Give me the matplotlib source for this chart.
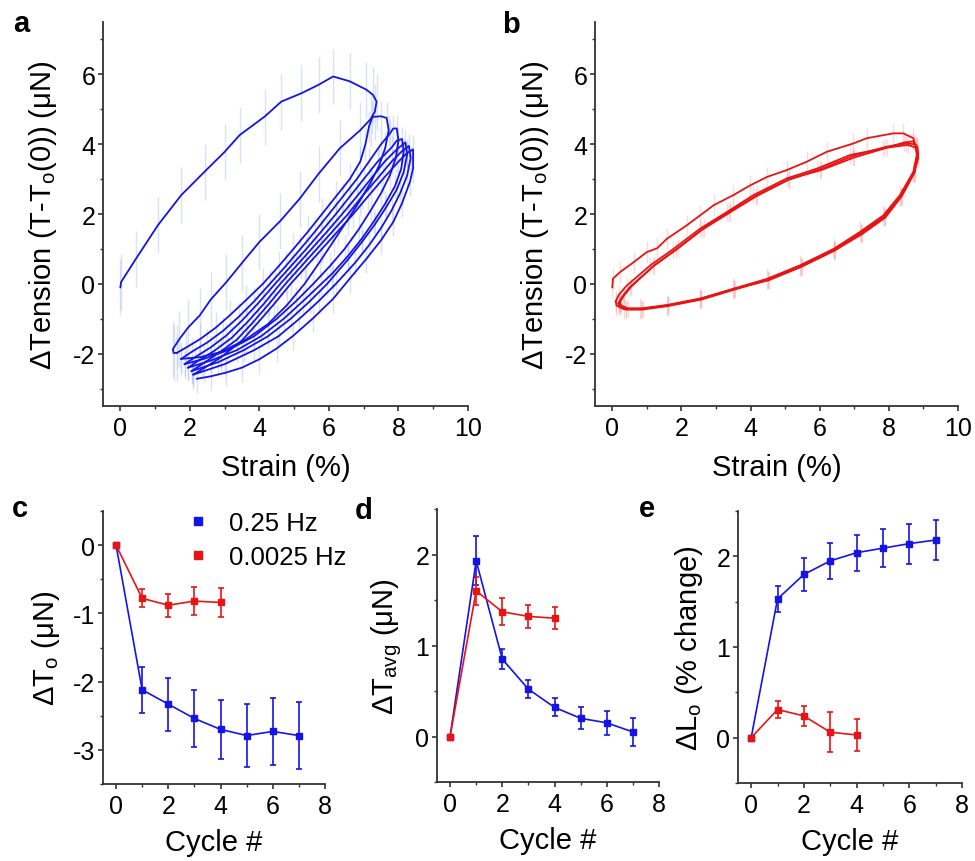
import matplotlib
matplotlib.use('Agg')
import matplotlib.pyplot as plt
from matplotlib.lines import Line2D
from matplotlib.ticker import MultipleLocator

plt.rcParams['font.family'] = ['Liberation Sans', 'DejaVu Sans']
plt.rcParams['mathtext.fontset'] = 'custom'
plt.rcParams['mathtext.rm'] = 'Liberation Sans'
plt.rcParams['mathtext.it'] = 'Liberation Sans:italic'
plt.rcParams['mathtext.bf'] = 'Liberation Sans:bold'
plt.rcParams['axes.unicode_minus'] = False

BLUE = '#1414e6'
RED = '#e81414'

# ---- panel a: 0.25 Hz strain / tension loops (one path per cycle) ----
a_x1 = [0, 0.02, 0.45, 1.08, 1.75, 2.42, 3.0, 3.43, 4.15, 4.63, 5.21, 5.7, 6.12, 6.6, 7.08, 7.27, 7.37, 7.32, 7.2,
        6.9, 6.31, 5.7, 5.16, 4.6, 4.0, 3.5, 3.05, 2.6, 2.28, 1.95, 1.7, 1.51, 1.53, 1.62]
a_y1 = [-0.1, 0.05, 0.72, 1.68, 2.54, 3.21, 3.78, 4.26, 4.79, 5.22, 5.46, 5.7, 5.94, 5.8, 5.56, 5.41, 5.22, 4.93, 4.72,
        4.4, 3.88, 3.15, 2.44, 1.8, 1.2, 0.6, 0.05, -0.45, -0.91, -1.25, -1.58, -1.87, -1.98, -1.98]
a_x2 = [1.62, 1.9, 2.3, 2.75, 3.15, 3.6, 4.1, 4.55, 4.98, 5.4, 5.8, 6.2, 6.6, 6.9, 7.05, 7.15, 7.25, 7.5, 7.66,
        7.72, 7.62, 7.45, 7.2, 6.9, 6.55, 6.15, 5.75, 5.3, 4.8, 4.25, 3.6, 2.9, 2.3, 1.75]
a_y2 = [-1.98, -1.82, -1.58, -1.25, -0.9, -0.48, 0.0, 0.5, 1.0, 1.5, 2.0, 2.5, 3.0, 3.5, 4.0, 4.5, 4.78, 4.8, 4.75,
        4.4, 3.9, 3.4, 2.9, 2.4, 1.85, 1.25, 0.65, 0.0, -0.6, -1.15, -1.6, -1.95, -2.1, -2.15]
a_x3 = [1.75, 2.05, 2.5, 2.95, 3.4, 3.85, 4.3, 4.75, 5.18, 5.6, 6.0, 6.4, 6.8, 7.15, 7.5, 7.75, 7.85, 7.95,
        8.0, 7.92, 7.75, 7.5, 7.2, 6.85, 6.45, 6.02, 5.55, 5.05, 4.5, 3.85, 3.1, 2.4, 1.85]
a_y3 = [-2.15, -1.95, -1.68, -1.35, -0.95, -0.5, 0.0, 0.5, 1.0, 1.5, 2.0, 2.5, 3.0, 3.5, 4.0, 4.3, 4.45, 4.45,
        4.1, 3.6, 3.1, 2.6, 2.1, 1.55, 1.0, 0.5, 0.0, -0.5, -1.0, -1.5, -1.9, -2.15, -2.3]
a_x4 = [1.85, 2.15, 2.6, 3.05, 3.5, 3.97, 4.45, 4.9, 5.35, 5.78, 6.2, 6.6, 7.0, 7.4, 7.8, 7.95, 8.1,
        8.15, 8.08, 7.9, 7.62, 7.3, 6.95, 6.55, 6.1, 5.78, 5.25, 4.7, 4.05, 3.35, 2.6, 1.95]
a_y4 = [-2.3, -2.1, -1.82, -1.48, -1.05, -0.55, 0.0, 0.5, 1.0, 1.5, 2.0, 2.5, 3.0, 3.5, 3.9, 4.1, 4.15,
        3.8, 3.3, 2.8, 2.3, 1.8, 1.3, 0.8, 0.3, 0.0, -0.5, -1.0, -1.5, -1.9, -2.2, -2.4]
a_x5 = [1.95, 2.25, 2.7, 3.2, 3.65, 4.12, 4.6, 5.05, 5.5, 5.95, 6.38, 6.8, 7.2, 7.6, 7.95, 8.2,
        8.25, 8.15, 7.95, 7.65, 7.32, 6.95, 6.55, 6.12, 5.95, 5.45, 4.9, 4.25, 3.55, 2.8, 2.05]
a_y5 = [-2.4, -2.2, -1.92, -1.55, -1.1, -0.58, 0.0, 0.5, 1.0, 1.5, 2.0, 2.5, 3.0, 3.5, 3.85, 4.05,
        3.7, 3.2, 2.7, 2.2, 1.7, 1.2, 0.7, 0.2, 0.0, -0.5, -1.0, -1.5, -1.9, -2.25, -2.5]
a_x6 = [2.05, 2.35, 2.8, 3.35, 3.8, 4.27, 4.75, 5.2, 5.65, 6.1, 6.55, 6.95, 7.38, 7.8, 8.1, 8.3,
        8.35, 8.25, 8.05, 7.8, 7.5, 7.15, 6.75, 6.2, 5.7, 5.15, 4.55, 3.85, 3.0, 2.1]
a_y6 = [-2.5, -2.3, -2.0, -1.6, -1.12, -0.58, 0.0, 0.5, 1.0, 1.5, 2.0, 2.5, 3.0, 3.5, 3.8, 3.95,
        3.6, 3.1, 2.6, 2.1, 1.6, 1.1, 0.6, 0.0, -0.5, -1.0, -1.5, -1.9, -2.3, -2.6]
a_x7 = [2.1, 2.4, 2.9, 3.5, 3.95, 4.42, 4.9, 5.35, 5.8, 6.25, 6.7, 7.12, 7.55, 8.0, 8.25, 8.42,
        8.42, 8.33, 8.1, 7.85, 7.5, 7.08, 6.6, 6.12, 5.55, 4.97, 4.5, 4.0, 3.5, 3.05, 2.6, 2.2]
a_y7 = [-2.6, -2.42, -2.1, -1.62, -1.12, -0.58, 0.0, 0.5, 1.0, 1.5, 2.0, 2.5, 3.0, 3.5, 3.75, 3.85,
        3.3, 2.92, 2.3, 1.77, 1.25, 0.72, 0.15, -0.43, -0.98, -1.49, -1.85, -2.16, -2.4, -2.54, -2.65, -2.72]
a_err = [0.8, 0.45, 0.4, 0.35, 0.35, 0.35, 0.4]

# ---- panel b: 0.0025 Hz loops ----
b_x1 = [0, 0.02, 0.23, 0.62, 1.0, 1.3, 1.58, 2.16, 2.54, 2.93, 3.5, 3.99, 4.47, 5.05, 5.63, 6.2, 6.97, 7.36, 8.13,
        8.42, 8.71, 8.78, 8.81, 8.71, 8.32, 7.84, 7.17, 6.4, 5.43, 4.47, 3.5, 2.54, 1.58, 0.81, 0.33, 0.12, 0.1]
b_y1 = [-0.1, 0.15, 0.34, 0.62, 0.91, 1.02, 1.29, 1.68, 1.96, 2.25, 2.54, 2.82, 3.06, 3.26, 3.5, 3.78, 4.02, 4.17, 4.31,
        4.31, 4.17, 3.9, 3.7, 3.21, 2.54, 1.96, 1.49, 1.0, 0.53, 0.14, -0.14, -0.43, -0.62, -0.72, -0.72, -0.62, -0.5]
b_x2 = [0.1, 0.2, 0.42, 1.1, 1.77, 2.54, 3.32, 4.08, 5.05, 5.92, 6.88, 7.84, 8.45, 8.7, 8.8,
        8.83, 8.73, 8.35, 7.88, 7.2, 6.45, 5.48, 4.5, 3.55, 2.58, 1.6, 0.85, 0.4, 0.2, 0.18]
b_y2 = [-0.5, -0.3, -0.05, 0.53, 1.0, 1.58, 2.06, 2.54, 3.02, 3.3, 3.69, 3.88, 4.05, 4.08, 3.95,
        3.75, 3.18, 2.5, 1.92, 1.45, 0.97, 0.5, 0.12, -0.16, -0.45, -0.64, -0.74, -0.74, -0.66, -0.55]
b_x3 = [0.18, 0.3, 0.5, 1.18, 1.85, 2.6, 3.38, 4.15, 5.1, 6.0, 6.95, 7.9, 8.5, 8.75, 8.82,
        8.85, 8.75, 8.38, 7.9, 7.22, 6.42, 5.45, 4.52, 3.52, 2.55, 1.62, 0.88, 0.45, 0.25, 0.22]
b_y3 = [-0.55, -0.35, -0.1, 0.5, 0.98, 1.55, 2.03, 2.5, 2.98, 3.28, 3.66, 3.92, 4.02, 4.0, 3.92,
        3.72, 3.2, 2.52, 1.9, 1.42, 0.95, 0.48, 0.1, -0.15, -0.42, -0.6, -0.7, -0.7, -0.62, -0.52]
b_x4 = [0.22, 0.35, 0.55, 1.2, 1.9, 2.65, 3.4, 4.2, 5.12, 6.05, 7.0, 7.95, 8.55, 8.78,
        8.85, 8.72, 8.34, 7.86, 7.19, 6.42, 5.46, 4.49, 3.53, 2.57, 1.6, 0.84, 0.4, 0.22]
b_y4 = [-0.52, -0.32, -0.08, 0.52, 1.02, 1.6, 2.08, 2.55, 3.0, 3.26, 3.62, 3.9, 3.98, 3.9,
        3.6, 3.18, 2.5, 1.94, 1.46, 0.98, 0.5, 0.11, -0.15, -0.44, -0.62, -0.72, -0.72, -0.6]
b_err = [0.3, 0.25, 0.25, 0.25]

# ---- panels c-e: per-cycle summaries ----
cyc_fast = [0, 1, 2, 3, 4, 5, 6, 7]
cyc_slow = [0, 1, 2, 3, 4]
dTo_fast = [0, -2.12, -2.33, -2.54, -2.70, -2.79, -2.73, -2.79]
dTo_fast_err = [0, 0.34, 0.39, 0.42, 0.43, 0.46, 0.49, 0.49]
dTo_slow = [0, -0.78, -0.88, -0.82, -0.84]
dTo_slow_err = [0, 0.13, 0.17, 0.20, 0.21]
dTavg_fast = [0, 1.93, 0.85, 0.52, 0.32, 0.20, 0.15, 0.05]
dTavg_fast_err = [0, 0.27, 0.11, 0.10, 0.10, 0.12, 0.13, 0.15]
dTavg_slow = [0, 1.60, 1.37, 1.32, 1.30]
dTavg_slow_err = [0, 0.15, 0.15, 0.13, 0.12]
dLo_fast = [0, 1.53, 1.80, 1.95, 2.04, 2.09, 2.14, 2.18]
dLo_fast_err = [0, 0.14, 0.18, 0.20, 0.20, 0.21, 0.22, 0.22]
dLo_slow = [0, 0.31, 0.24, 0.06, 0.03]
dLo_slow_err = [0.02, 0.09, 0.11, 0.22, 0.18]

W, H = 975, 862
fig = plt.figure(figsize=(W / 100, H / 100), dpi=100)


def add_ax(left, top, right, bottom):
    return fig.add_axes([left / W, 1 - bottom / H, (right - left) / W, (bottom - top) / H])


def style(ax, xmaj, xmin, ymaj, ymin):
    for s in ['top', 'right']:
        ax.spines[s].set_visible(False)
    for s in ['left', 'bottom']:
        ax.spines[s].set_linewidth(1.3)
        ax.spines[s].set_color('#333333')
    ax.xaxis.set_major_locator(MultipleLocator(xmaj))
    ax.xaxis.set_minor_locator(MultipleLocator(xmin))
    ax.yaxis.set_major_locator(MultipleLocator(ymaj))
    ax.yaxis.set_minor_locator(MultipleLocator(ymin))
    ax.tick_params(which='major', direction='out', length=3.5, width=1.2, color='#333333', labelsize=18)
    ax.tick_params(which='minor', direction='out', length=2, width=1.0, color='#333333')
    ax.tick_params(axis='x', which='major', pad=4)
    ax.tick_params(axis='y', which='major', pad=2)


# panel a
ax_a = add_ax(103, 23, 468, 407)
a_paths = [(a_x1, a_y1), (a_x2, a_y2), (a_x3, a_y3), (a_x4, a_y4), (a_x5, a_y5), (a_x6, a_y6), (a_x7, a_y7)]
for (x, y), e in zip(a_paths, a_err):
    ax_a.errorbar(x, y, yerr=e, fmt='none', ecolor='#9db4f2', elinewidth=1.0, alpha=0.4)
for x, y in a_paths:
    ax_a.plot(x, y, color=BLUE, lw=1.3)
ax_a.set_xlim(-0.5, 10)
ax_a.set_ylim(-3.5, 7.5)
style(ax_a, 2, 1, 2, 1)
ax_a.set_xlabel('Strain (%)', fontsize=21, labelpad=9)
ax_a.set_ylabel('ΔTension (T-T$_\\mathrm{o}$(0)) (μN)', fontsize=21, labelpad=10)

# panel b
ax_b = add_ax(595, 23, 958, 407)
b_paths = [(b_x1, b_y1), (b_x2, b_y2), (b_x3, b_y3), (b_x4, b_y4)]
for (x, y), e in zip(b_paths, b_err):
    ax_b.errorbar(x, y, yerr=e, fmt='none', ecolor='#f5a0a0', elinewidth=1.0, alpha=0.4)
for x, y in b_paths:
    ax_b.plot(x, y, color=RED, lw=1.3)
ax_b.set_xlim(-0.5, 10)
ax_b.set_ylim(-3.5, 7.5)
style(ax_b, 2, 1, 2, 1)
ax_b.set_xlabel('Strain (%)', fontsize=21, labelpad=9)
ax_b.set_ylabel('ΔTension (T-T$_\\mathrm{o}$(0)) (μN)', fontsize=21, labelpad=10)


def summary(ax, yf, ef, ys, es):
    kw = dict(marker='s', ms=4, lw=1.2, capsize=2.5, elinewidth=1.2, capthick=1.2)
    ax.errorbar(cyc_fast, yf, yerr=ef, color=BLUE, **kw)
    ax.errorbar(cyc_slow, ys, yerr=es, color=RED, **kw)
    ax.set_xlim(-0.5, 8)
    ax.set_xlabel('Cycle #', fontsize=21, labelpad=7)


ax_c = add_ax(103, 512, 325, 785)
summary(ax_c, dTo_fast, dTo_fast_err, dTo_slow, dTo_slow_err)
ax_c.set_ylim(-3.5, 0.5)
style(ax_c, 2, 1, 1, 0.5)
ax_c.set_ylabel('ΔT$_\\mathrm{o}$ (μN)', fontsize=21, labelpad=8)
handles = [Line2D([], [], ls='none', marker='s', color=BLUE, ms=6),
           Line2D([], [], ls='none', marker='s', color=RED, ms=6)]
ax_c.legend(handles, ['0.25 Hz', '0.0025 Hz'], loc='upper left', bbox_to_anchor=(190 / W, 1 - 512 / H),
            bbox_transform=fig.transFigure, frameon=False, fontsize=18.5, handlelength=0.6,
            handletextpad=0.9, labelspacing=0.4, borderpad=0, borderaxespad=0)

ax_d = add_ax(437, 510, 659, 783)
summary(ax_d, dTavg_fast, dTavg_fast_err, dTavg_slow, dTavg_slow_err)
ax_d.set_ylim(-0.5, 2.5)
style(ax_d, 2, 1, 1, 0.5)
ax_d.set_ylabel('ΔT$_\\mathrm{avg}$ (μN)', fontsize=21, labelpad=8)

ax_e = add_ax(738, 512, 962, 784)
summary(ax_e, dLo_fast, dLo_fast_err, dLo_slow, dLo_slow_err)
ax_e.set_ylim(-0.5, 2.5)
style(ax_e, 2, 1, 1, 0.5)
ax_e.set_ylabel('ΔL$_\\mathrm{o}$ (% change)', fontsize=21, labelpad=8)

for lab, px, py in [('a', 13, 32), ('b', 502, 33), ('c', 12, 517), ('d', 355, 519), ('e', 639, 517)]:
    fig.text(px / W, 1 - py / H, lab, fontsize=21, fontweight='bold', va='baseline', ha='left')

fig.savefig('out.png', dpi=100)
